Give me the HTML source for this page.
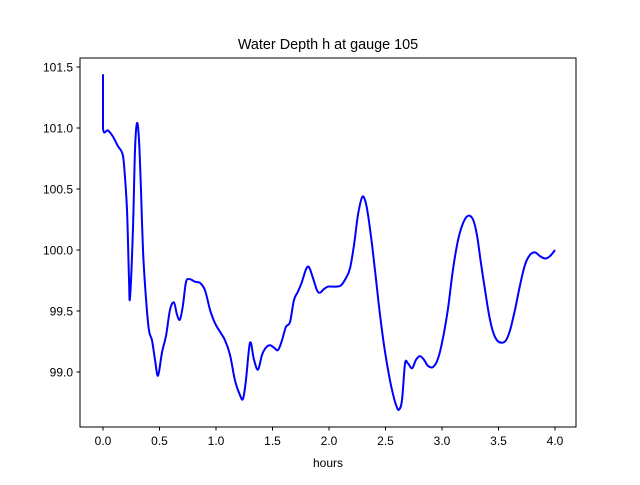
<!DOCTYPE html>
<html><head><meta charset="utf-8"><style>
body{margin:0;background:#fff;width:640px;height:480px;overflow:hidden}
svg text{font-family:"Liberation Sans","DejaVu Sans",sans-serif;font-size:12px;fill:#000}
</style></head><body>
<svg id="chart" width="640" height="480" viewBox="0 0 640 480">
<rect width="640" height="480" fill="#fff"/>
<text x="328" y="49" text-anchor="middle" style="font-size:14.4px">Water Depth h at gauge 105</text>
<g id="ticks"></g>
<path id="line" fill="none" stroke="#0000ff" stroke-width="2" stroke-linejoin="round"/>
<rect x="80" y="58" width="496" height="369" fill="none" stroke="#000" stroke-width="1"/>
<text x="328" y="467" text-anchor="middle">hours</text>
</svg>
<script>
const hours=[0,0,0.044,0.088,0.133,0.168,0.186,0.212,0.230,0.239,0.265,0.283,0.301,0.319,0.336,0.354,0.381,0.407,0.434,0.460,0.487,0.522,0.558,0.593,0.628,0.655,0.681,0.708,0.735,0.770,0.814,0.858,0.903,0.947,0.991,1.035,1.080,1.124,1.168,1.212,1.239,1.265,1.301,1.336,1.372,1.407,1.442,1.478,1.513,1.549,1.584,1.619,1.655,1.690,1.726,1.761,1.796,1.823,1.858,1.894,1.920,1.956,1.991,2.027,2.062,2.106,2.150,2.186,2.221,2.257,2.292,2.319,2.345,2.381,2.416,2.451,2.487,2.522,2.558,2.593,2.619,2.646,2.673,2.699,2.735,2.770,2.805,2.841,2.876,2.920,2.965,3.009,3.053,3.097,3.142,3.186,3.230,3.274,3.310,3.345,3.381,3.416,3.451,3.487,3.531,3.566,3.602,3.646,3.690,3.735,3.779,3.823,3.867,3.912,3.956,4.0];
const depth=[101.44,101.0,100.98,100.93,100.85,100.80,100.70,100.33,99.76,99.61,100.16,100.82,101.04,100.90,100.49,100.0,99.59,99.34,99.26,99.10,98.97,99.16,99.30,99.51,99.57,99.47,99.43,99.55,99.74,99.76,99.74,99.73,99.67,99.51,99.40,99.33,99.26,99.14,98.93,98.81,98.78,98.93,99.24,99.10,99.02,99.14,99.20,99.22,99.20,99.18,99.26,99.37,99.41,99.59,99.66,99.74,99.84,99.86,99.77,99.67,99.65,99.68,99.70,99.70,99.70,99.71,99.77,99.85,100.04,100.29,100.43,100.41,100.29,100.04,99.76,99.47,99.22,99.02,98.85,98.73,98.69,98.77,99.07,99.07,99.03,99.10,99.13,99.10,99.05,99.04,99.11,99.28,99.52,99.84,100.08,100.22,100.28,100.25,100.12,99.89,99.67,99.47,99.33,99.26,99.24,99.26,99.34,99.51,99.71,99.88,99.96,99.98,99.95,99.93,99.95,100.00];
const xTicks=[0.0,0.5,1.0,1.5,2.0,2.5,3.0,3.5,4.0];
const yTicks=[99.0,99.5,100.0,100.5,101.0,101.5];
const X=v=>103+v*113;
const Y=v=>67+(101.5-v)*122;
const NS="http://www.w3.org/2000/svg";
const g=document.getElementById('ticks');
function mk(tag,attrs){const e=document.createElementNS(NS,tag);for(const k in attrs)e.setAttribute(k,attrs[k]);return e;}
xTicks.forEach(t=>{
  const l=mk('line',{x1:X(t),x2:X(t),y1:427,y2:430.5,stroke:'#000'});
  
  
  g.appendChild(l);
  const tx=mk('text',{x:X(t),y:445,'text-anchor':'middle'});
  
  
  tx.textContent=t.toFixed(1);g.appendChild(tx);
});
yTicks.forEach(t=>{
  const l=mk('line',{x1:76.5,x2:80,y1:Y(t),y2:Y(t),stroke:'#000'});
  
  
  g.appendChild(l);
  const tx=mk('text',{x:73,y:Y(t)+4.5,'text-anchor':'end'});
  
  
  tx.textContent=t.toFixed(1);g.appendChild(tx);
});
const P=hours.map((h,i)=>[X(h),Y(depth[i])]);
let d='M'+P[0][0].toFixed(1)+' '+P[0][1].toFixed(1);
for(let i=0;i<P.length-1;i++){
  const p0=P[Math.max(i-1,0)],p1=P[i],p2=P[i+1],p3=P[Math.min(i+2,P.length-1)];
  const c1=[p1[0]+(p2[0]-p0[0])/6,p1[1]+(p2[1]-p0[1])/6];
  const c2=[p2[0]-(p3[0]-p1[0])/6,p2[1]-(p3[1]-p1[1])/6];
  if(i===0){d+='L'+p2[0].toFixed(1)+' '+p2[1].toFixed(1);continue;}
  d+='C'+c1[0].toFixed(1)+' '+c1[1].toFixed(1)+' '+c2[0].toFixed(1)+' '+c2[1].toFixed(1)+' '+p2[0].toFixed(1)+' '+p2[1].toFixed(1);
}
document.getElementById('line').setAttribute('d',d);
</script>
</body></html>
